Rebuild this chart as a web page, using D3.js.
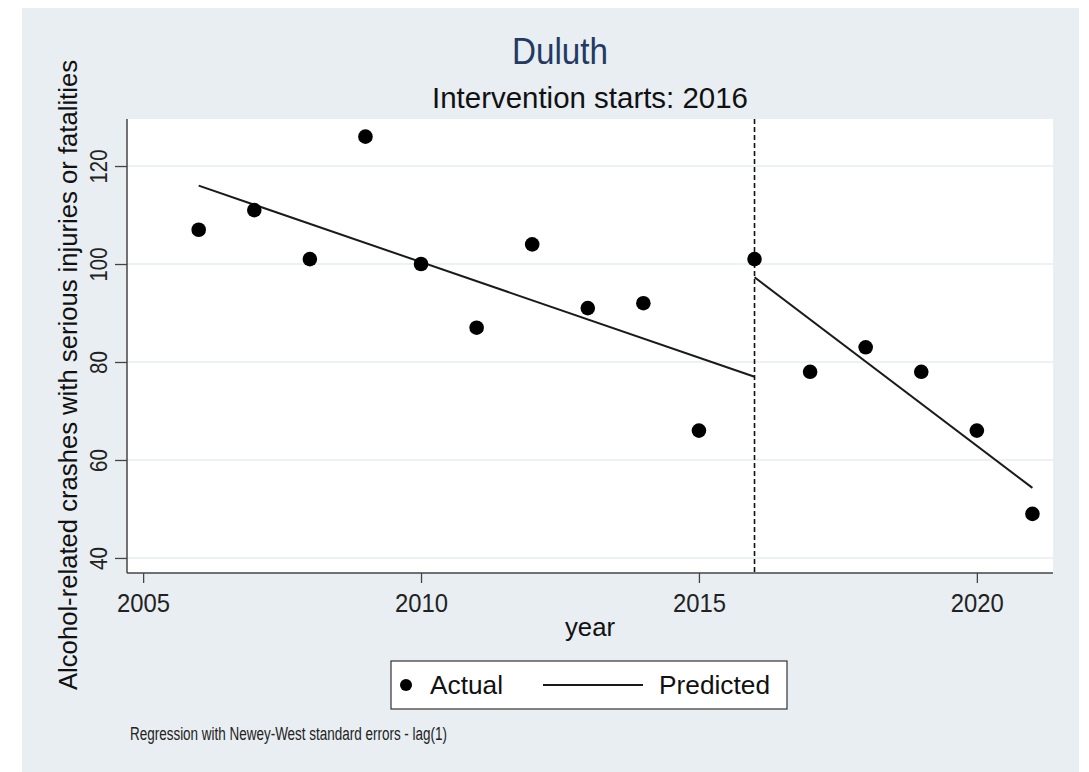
<!DOCTYPE html>
<html>
<head>
<meta charset="utf-8">
<script src="https://cdn.jsdelivr.net/npm/d3@7"></script>
<style>
  html, body { margin: 0; padding: 0; background: #ffffff; }
  svg text { font-family: "Liberation Sans", Arial, sans-serif; }
</style>
</head>
<body>
<svg id="chart" width="1089" height="772"></svg>
<script>
// Observed counts per year
const years = [2006, 2007, 2008, 2009, 2010, 2011, 2012, 2013, 2014, 2015, 2016, 2017, 2018, 2019, 2020, 2021];
const actual = [107, 111, 101, 126, 100, 87, 104, 91, 92, 66, 101, 78, 83, 78, 66, 49];

// Fitted segments (pre- and post-intervention)
const preYears = [2006, 2016];
const preFit = [116, 77];
const postYears = [2016, 2021];
const postFit = [97.3, 54.3];

const interventionYear = 2016;
const xTicks = [2005, 2010, 2015, 2020];
const yTicks = [40, 60, 80, 100, 120];

const titleText = "Duluth";
const subtitleText = "Intervention starts: 2016";
const xLabel = "year";
const yLabel = "Alcohol-related crashes with serious injuries or fatalities";
const legendLabels = ["Actual", "Predicted"];
const noteText = "Regression with Newey-West standard errors - lag(1)";

const svg = d3.select("#chart");

// graph region background
svg.append("rect").attr("x", 22).attr("y", 8).attr("width", 1057).attr("height", 764)
  .attr("fill", "#e8eef1");

const plot = { left: 127, top: 119, right: 1053, bottom: 573 };

const x = d3.scaleLinear().domain([2004.71, 2021.37]).range([plot.left, plot.right]);
const y = d3.scaleLinear().domain([36.93, 129.6]).range([plot.bottom, plot.top]);

// plot region
svg.append("rect").attr("x", plot.left).attr("y", plot.top)
  .attr("width", plot.right - plot.left).attr("height", plot.bottom - plot.top)
  .attr("fill", "#ffffff");

// horizontal grid lines
svg.append("g").selectAll("line").data(yTicks).join("line")
  .attr("x1", plot.left).attr("x2", plot.right)
  .attr("y1", d => y(d)).attr("y2", d => y(d))
  .attr("stroke", "#e6edf0").attr("stroke-width", 1.5);

// text helper: condensed lettering fitted to a set width
function label(sel, str, size, width) {
  sel.attr("font-size", size).text(str);
  if (width) sel.attr("textLength", width).attr("lengthAdjust", "spacingAndGlyphs");
  return sel;
}

// y axis with vertical tick labels
const yAxis = svg.append("g").attr("transform", `translate(${plot.left},0)`)
  .call(d3.axisLeft(y).tickValues(yTicks).tickSize(12).tickSizeOuter(0));
yAxis.select(".domain").remove();
yAxis.append("line").attr("x1", 0).attr("x2", 0).attr("y1", plot.top).attr("y2", plot.bottom)
  .attr("stroke", "#444").attr("stroke-width", 1.5);
yAxis.selectAll(".tick line").attr("stroke", "#444").attr("stroke-width", 1.3);
yAxis.selectAll(".tick text")
  .attr("transform", "rotate(-90)")
  .attr("x", 0).attr("y", -20).attr("dy", 0)
  .attr("text-anchor", "middle")
  .attr("font-size", 24).attr("fill", "#222")
  .attr("textLength", d => d >= 100 ? 34 : 23).attr("lengthAdjust", "spacingAndGlyphs")
  .style("font-family", "Liberation Sans, Arial, sans-serif");

// x axis
const xAxis = svg.append("g").attr("transform", `translate(0,${plot.bottom})`)
  .call(d3.axisBottom(x).tickValues(xTicks).tickFormat(d3.format("d")).tickSize(10).tickSizeOuter(0));
xAxis.select(".domain").remove();
xAxis.append("line").attr("x1", plot.left).attr("x2", plot.right).attr("y1", 0).attr("y2", 0)
  .attr("stroke", "#444").attr("stroke-width", 1.5);
xAxis.selectAll(".tick line").attr("stroke", "#444").attr("stroke-width", 1.3);
xAxis.selectAll(".tick text")
  .attr("y", 39).attr("dy", 0)
  .attr("font-size", 25).attr("fill", "#222")
  .attr("textLength", 53).attr("lengthAdjust", "spacingAndGlyphs")
  .style("font-family", "Liberation Sans, Arial, sans-serif");

// intervention marker
svg.append("line")
  .attr("x1", x(interventionYear)).attr("x2", x(interventionYear))
  .attr("y1", plot.top).attr("y2", plot.bottom)
  .attr("stroke", "#111").attr("stroke-width", 1.6).attr("stroke-dasharray", "5,3");

// fitted lines
const line = d3.line().x(d => x(d[0])).y(d => y(d[1]));
[[preYears, preFit], [postYears, postFit]].forEach(([ys, vs]) => {
  svg.append("path").datum(ys.map((yr, i) => [yr, vs[i]]))
    .attr("d", line).attr("fill", "none").attr("stroke", "#1a1a1a").attr("stroke-width", 2);
});

// observed points
svg.append("g").selectAll("circle").data(years.map((yr, i) => [yr, actual[i]])).join("circle")
  .attr("cx", d => x(d[0])).attr("cy", d => y(d[1])).attr("r", 7.3)
  .attr("fill", "#000");

// titles
label(svg.append("text").attr("x", 560).attr("y", 64).attr("text-anchor", "middle")
  .attr("fill", "#233a63"), titleText, 37, 96);
label(svg.append("text").attr("x", 590).attr("y", 108).attr("text-anchor", "middle")
  .attr("fill", "#111"), subtitleText, 29, 316);

// axis titles
label(svg.append("text").attr("x", 590).attr("y", 636).attr("text-anchor", "middle")
  .attr("fill", "#111"), xLabel, 25, 50);
label(svg.append("text").attr("transform", `translate(77,375) rotate(-90)`)
  .attr("text-anchor", "middle").attr("fill", "#111"), yLabel, 25, 630);

// legend
const lg = svg.append("g");
lg.append("rect").attr("x", 391).attr("y", 661).attr("width", 396).attr("height", 48)
  .attr("fill", "#fff").attr("stroke", "#333").attr("stroke-width", 1.2);
lg.append("circle").attr("cx", 406).attr("cy", 685).attr("r", 6).attr("fill", "#000");
label(lg.append("text").attr("x", 430).attr("y", 694).attr("fill", "#111"), legendLabels[0], 25, 73);
lg.append("line").attr("x1", 543).attr("x2", 643).attr("y1", 685).attr("y2", 685)
  .attr("stroke", "#1a1a1a").attr("stroke-width", 1.8);
label(lg.append("text").attr("x", 659).attr("y", 694).attr("fill", "#111"), legendLabels[1], 25, 111);

// note
label(svg.append("text").attr("x", 130).attr("y", 740).attr("fill", "#222"), noteText, 18, 317);
</script>
</body>
</html>
